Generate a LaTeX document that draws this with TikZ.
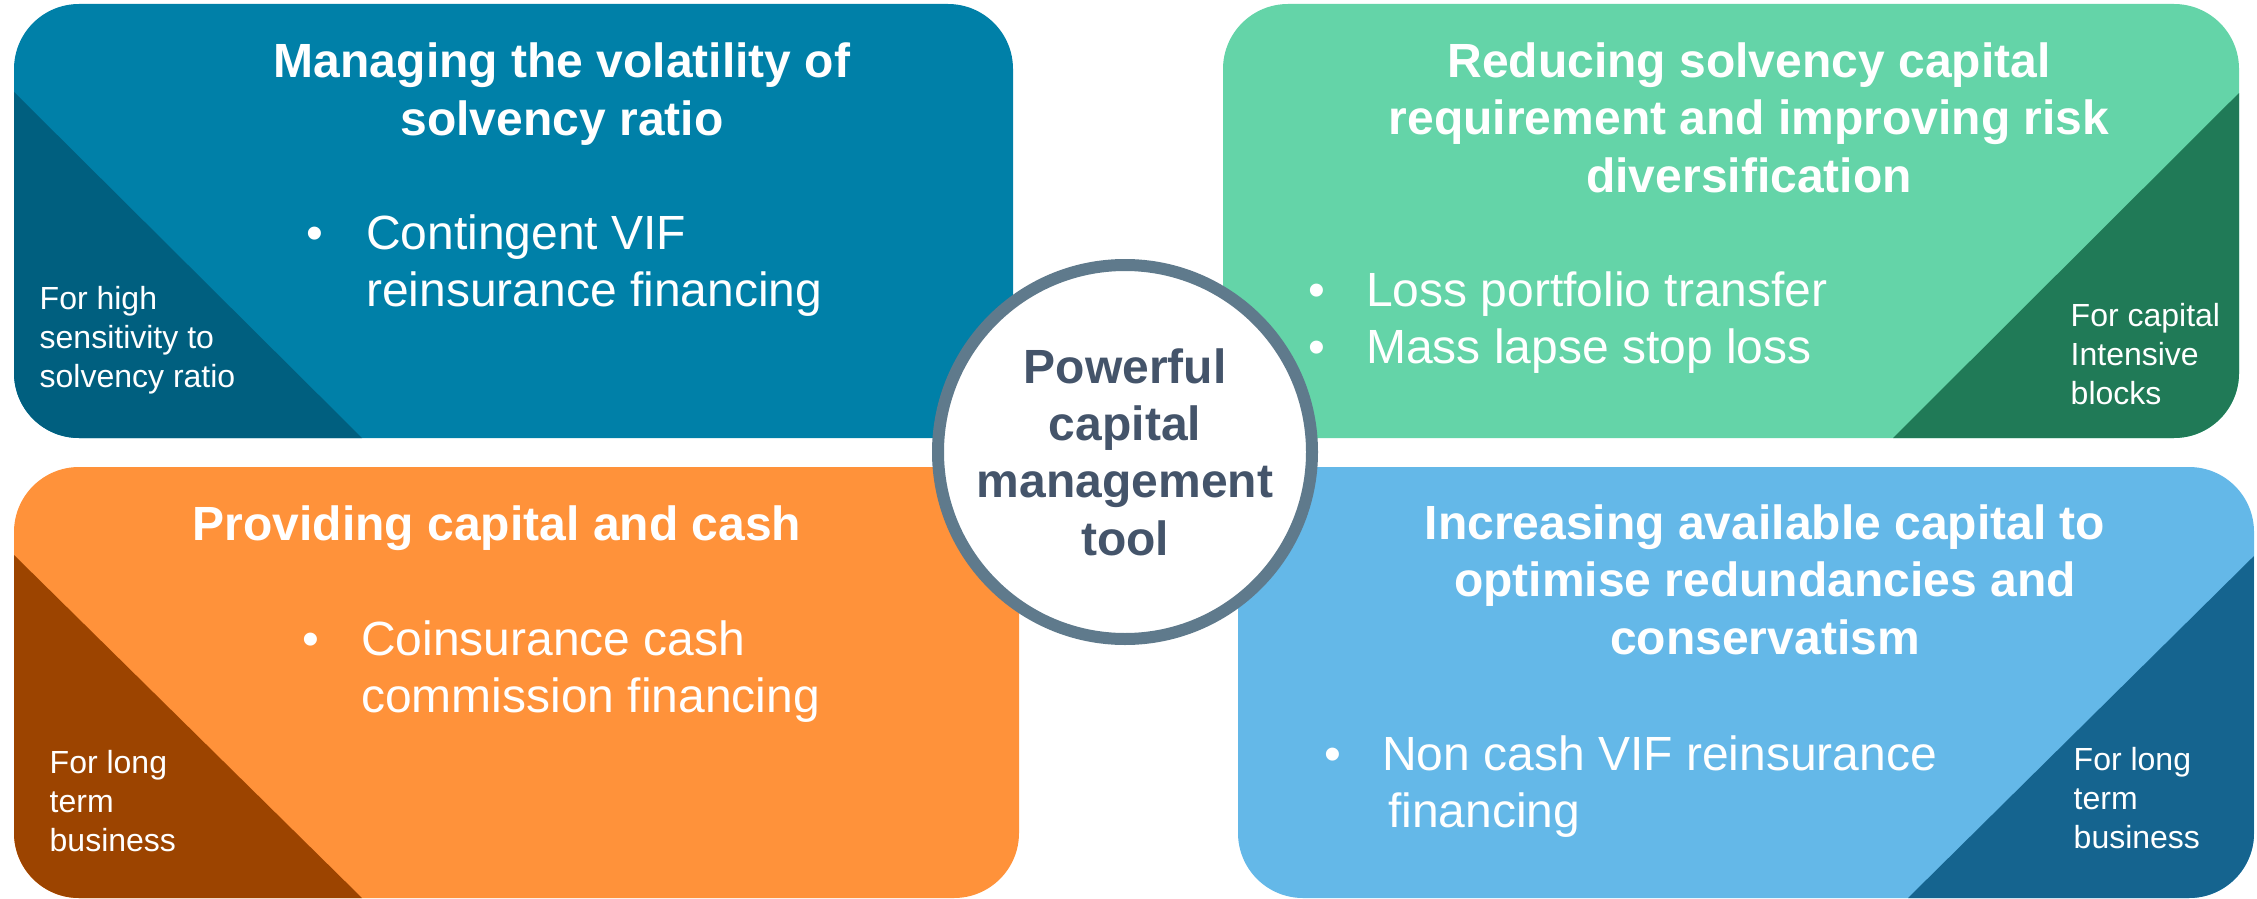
\documentclass[tikz,border=0pt]{standalone}
\usepackage{fontspec}
\setmainfont{Liberation Sans}
\definecolor{tlmain}{RGB}{0,128,168}
\definecolor{tldark}{RGB}{0,95,127}
\definecolor{trmain}{RGB}{100,212,168}
\definecolor{trdark}{RGB}{32,122,87}
\definecolor{blmain}{RGB}{255,146,58}
\definecolor{bldark}{RGB}{156,68,0}
\definecolor{brmain}{RGB}{100,184,232}
\definecolor{brdark}{RGB}{21,100,143}
\definecolor{ringcol}{RGB}{95,122,140}
\definecolor{hubtext}{RGB}{68,84,106}
\tikzset{
  panel/.style={rectangle, rounded corners=65pt, inner sep=0pt, draw=none},
  cornerleft/.style={path picture={\fill[#1, sharp corners] ([yshift=-88pt]path picture bounding box.north west) -- ([xshift=348pt]path picture bounding box.south west) -- (path picture bounding box.south west) -- cycle;}},
  cornerright/.style={path picture={\fill[#1, sharp corners] ([yshift=-89pt]path picture bounding box.north east) -- ([xshift=-346pt]path picture bounding box.south east) -- (path picture bounding box.south east) -- cycle;}},
  title/.style={anchor=base, align=center, inner sep=0pt, text=white, font=\fontsize{48}{57.5}\selectfont\bfseries},
  body/.style={anchor=base west, align=left, inner sep=0pt, text=white, font=\fontsize{48}{57}\selectfont},
  tag/.style={anchor=base west, align=left, inner sep=0pt, text=white, font=\fontsize{32}{39}\selectfont},
  hub/.style={circle, draw=ringcol, line width=12pt, fill=white, minimum size=374pt, inner sep=0pt, align=center, text=hubtext, font=\fontsize{48}{57.3}\selectfont\bfseries}
}
\begin{document}
\begin{tikzpicture}[x=1pt, y=-1pt]
\fill[white] (0,0) rectangle (2257,899);
\useasboundingbox (0,0) rectangle (2257,899);
% panels
\node[panel, fill=tlmain, minimum width=999pt, minimum height=434pt, cornerleft=tldark] (tl) at (513.5,221) {};
\node[panel, fill=trmain, minimum width=1016pt, minimum height=434pt, cornerright=trdark] (tr) at (1731,221) {};
\node[panel, fill=blmain, minimum width=1005pt, minimum height=431pt, cornerleft=bldark] (bl) at (516.5,682.5) {};
\node[panel, fill=brmain, minimum width=1016pt, minimum height=431pt, cornerright=brdark] (br) at (1746,682.5) {};
% titles (anchor at baseline of last line)
\node[title] (tlt) at (562,135) {Managing the volatility of\\solvency ratio};
\node[title] (trt) at (1749,192) {Reducing solvency capital\\requirement and improving risk\\diversification};
\node[title] (blt) at (497,540) {Providing capital and cash};
\node[title] (brt) at (1765,654) {Increasing available capital to\\optimise redundancies and\\conservatism};
% bullets
\node[body] (tlb) at (306,306) {\makebox[60pt][l]{•}Contingent VIF\\\hspace*{60pt}reinsurance financing};
\node[body] (trb) at (1308,363) {\makebox[58pt][l]{•}Loss portfolio transfer\\\makebox[58pt][l]{•}Mass lapse stop loss};
\node[body] (blb) at (302,712) {\makebox[59pt][l]{•}Coinsurance cash\\\hspace*{59pt}commission financing};
\node[body] (brb) at (1324,827) {\makebox[58pt][l]{•}Non cash VIF reinsurance\\\hspace*{64pt}financing};
% tags
\node[tag] (tlg) at (39.5,387) {For high\\sensitivity to\\solvency ratio};
\node[tag] (trg) at (2070.5,404) {For capital\\Intensive\\blocks};
\node[tag] (blg) at (49.5,851) {For long\\term\\business};
\node[tag] (brg) at (2073.5,848) {For long\\term\\business};
% hub
\node[hub] (hubc) at (1125,452) {Powerful\\capital\\management\\tool};
\end{tikzpicture}
\end{document}
